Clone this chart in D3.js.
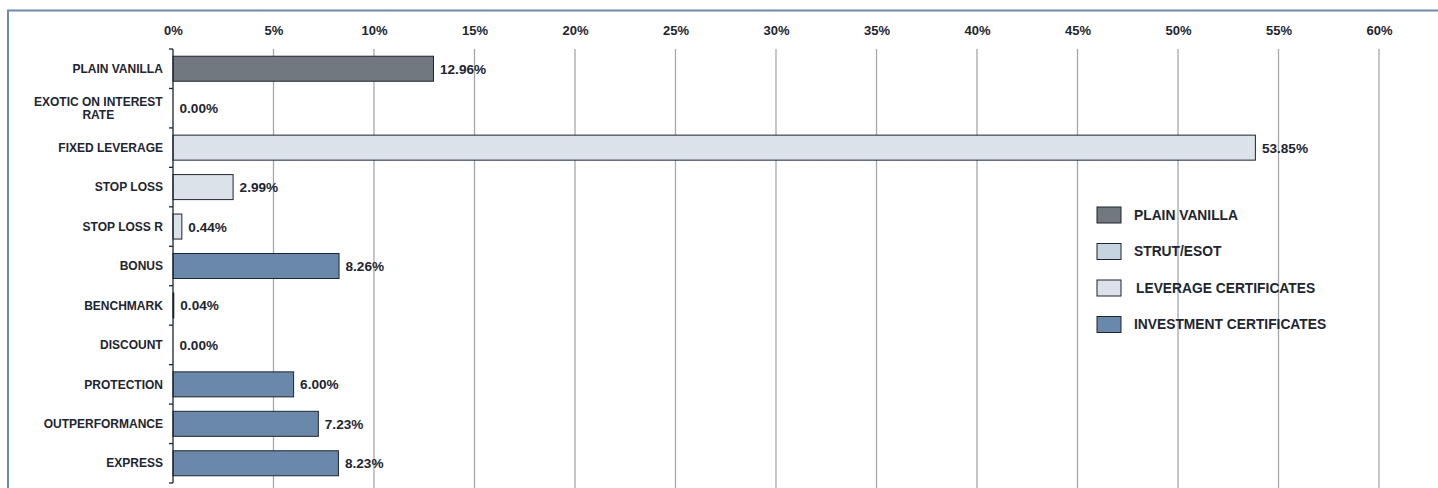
<!DOCTYPE html>
<html>
<head>
<meta charset="utf-8">
<script src="https://cdn.jsdelivr.net/npm/d3@7"></script>
<style>
  body { margin: 0; background: #fff; }
  svg text { font-family: "Liberation Sans", Arial, sans-serif; font-weight: bold; fill: #1d2530; }
</style>
</head>
<body>
<svg id="canvas" width="1438" height="488"></svg>
<script>
// data
let categories=["PLAIN VANILLA","EXOTIC ON INTEREST RATE","FIXED LEVERAGE","STOP LOSS","STOP LOSS R","BONUS","BENCHMARK","DISCOUNT","PROTECTION","OUTPERFORMANCE","EXPRESS"]
let values=[12.96,0.00,53.85,2.99,0.44,8.26,0.04,0.00,6.00,7.23,8.23]
let groups=["PLAIN VANILLA","STRUT/ESOT","LEVERAGE CERTIFICATES","LEVERAGE CERTIFICATES","LEVERAGE CERTIFICATES","INVESTMENT CERTIFICATES","INVESTMENT CERTIFICATES","INVESTMENT CERTIFICATES","INVESTMENT CERTIFICATES","INVESTMENT CERTIFICATES","INVESTMENT CERTIFICATES"]
let legendnames=["PLAIN VANILLA","STRUT/ESOT","LEVERAGE CERTIFICATES","INVESTMENT CERTIFICATES"]
let xticks=[0,5,10,15,20,25,30,35,40,45,50,55,60]

let canvas=d3.select("#canvas")

let draw=()=>{
    const colors={"PLAIN VANILLA":"#72787f","STRUT/ESOT":"#c6d3e0","LEVERAGE CERTIFICATES":"#dbe2ea","INVESTMENT CERTIFICATES":"#6a88aa"}

    const x=d3.scaleLinear().domain([0,60]).range([173,1379])
    const y=d3.scaleBand().domain(categories).range([49,483]).paddingInner(0.366).paddingOuter(0.183)
    const step=y.step()

    // frame
    canvas.append("path")
          .attr("d","M8,488 V10.5 H1438")
          .attr("fill","none")
          .attr("stroke","#6d8cad")
          .attr("stroke-width",2)

    // grid
    canvas.append("g")
          .selectAll("line")
          .data(xticks.filter(d=>d>0))
          .enter()
          .append("line")
          .attr("x1",d=>x(d)).attr("x2",d=>x(d))
          .attr("y1",49).attr("y2",488)
          .attr("stroke","#a4a8ad")
          .attr("stroke-width",1.3)

    // top axis labels
    const axis=d3.axisTop(x).tickValues(xticks).tickSize(0).tickFormat(d=>d+"%")
    const ax=canvas.append("g").attr("transform","translate(0,38)").call(axis)
    ax.select(".domain").remove()
    ax.attr("font-size",null).attr("font-family",null)
    ax.selectAll("text").style("font-size","13px").attr("fill","#1d2530").attr("dy",0)

    // bars
    canvas.append("g")
          .selectAll("rect")
          .data(categories)
          .enter()
          .append("rect")
          .attr("x",x(0))
          .attr("y",d=>y(d))
          .attr("width",(d,i)=>x(values[i])-x(0))
          .attr("height",y.bandwidth())
          .attr("fill",(d,i)=>colors[groups[i]])
          .attr("stroke","#1d2530")
          .attr("stroke-width",1)

    // left axis line with boundary ticks
    canvas.append("line")
          .attr("x1",x(0)).attr("x2",x(0))
          .attr("y1",49).attr("y2",483)
          .attr("stroke","#1d2530").attr("stroke-width",1.3)
    canvas.append("g")
          .selectAll("line")
          .data(d3.range(categories.length+1))
          .enter()
          .append("line")
          .attr("x1",x(0)-4).attr("x2",x(0))
          .attr("y1",i=>49+i*step).attr("y2",i=>49+i*step)
          .attr("stroke","#1d2530").attr("stroke-width",1.3)

    // category labels (wrapped one is a centred block, right edge at 163)
    categories.forEach((c,i)=>{
        const cy=y(c)+y.bandwidth()/2
        const lines=c==="EXOTIC ON INTEREST RATE"?["EXOTIC ON INTEREST","RATE"]:[c]
        const t=canvas.append("text")
                      .style("font-size","12px")
                      .attr("text-anchor","middle")
        lines.forEach((l,j)=>{
            t.append("tspan").text(l)
             .attr("x",0)
             .attr("dy",j===0?((-(lines.length-1)*1.12/2)+0.35)+"em":"1.12em")
        })
        const w=t.node().getBBox().width
        t.selectAll("tspan").attr("x",163-w/2)
        t.attr("y",cy)
    })

    // value labels
    canvas.append("g")
          .selectAll("text")
          .data(categories)
          .enter()
          .append("text")
          .attr("x",(d,i)=>x(values[i])+6.5)
          .attr("y",d=>y(d)+y.bandwidth()/2)
          .attr("dy","0.37em")
          .style("font-size","13.6px")
          .text((d,i)=>values[i].toFixed(2)+"%")

    // legend
    const lg=canvas.append("g")
    lg.selectAll("rect")
      .data(legendnames)
      .enter()
      .append("rect")
      .attr("x",1097)
      .attr("y",(d,i)=>207+i*36.5)
      .attr("width",24)
      .attr("height",16)
      .attr("fill",d=>colors[d])
      .attr("stroke","#1d2530")
      .attr("stroke-width",1)
    lg.selectAll("text")
      .data(legendnames)
      .enter()
      .append("text")
      .attr("x",(d,i)=>i===2?1136:1134)
      .attr("y",(d,i)=>207+i*36.5+8)
      .attr("dy","0.35em")
      .style("font-size","13.8px")
      .text(d=>d)
}

draw()
</script>
</body>
</html>
